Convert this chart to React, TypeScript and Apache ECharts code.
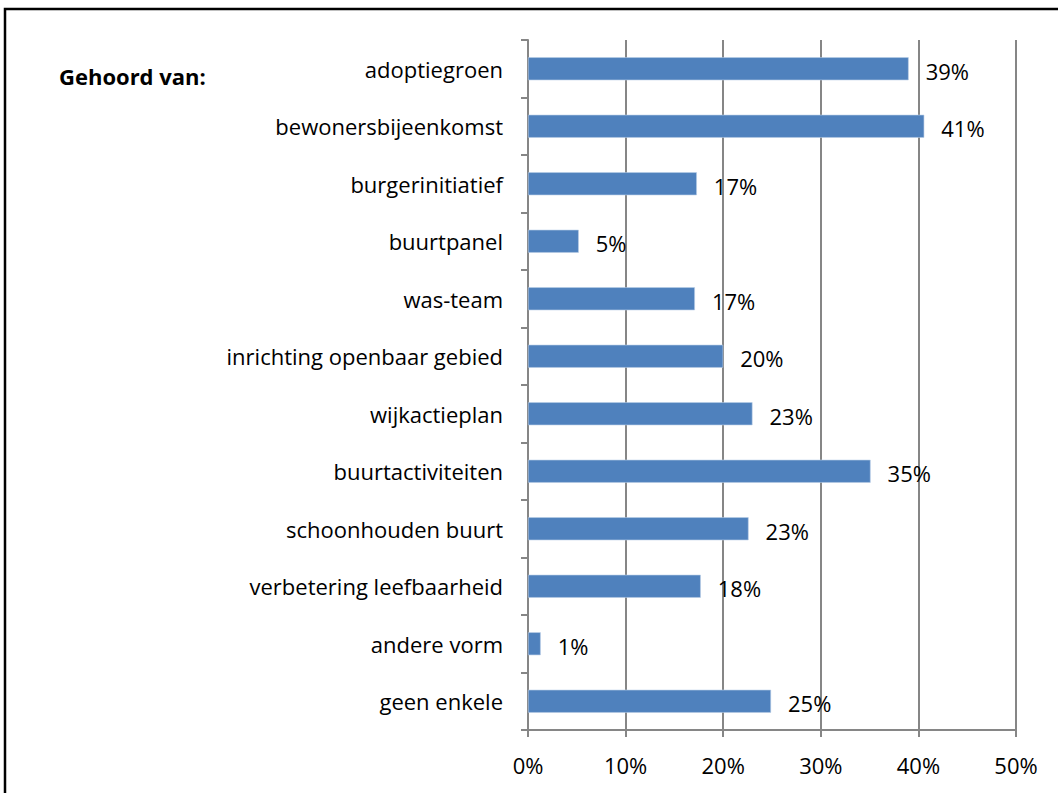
import React, { useEffect, useRef } from "react";
import * as echarts from "echarts";

const categories = [
  "adoptiegroen",
  "bewonersbijeenkomst",
  "burgerinitiatief",
  "buurtpanel",
  "was-team",
  "inrichting openbaar gebied",
  "wijkactieplan",
  "buurtactiviteiten",
  "schoonhouden buurt",
  "verbetering leefbaarheid",
  "andere vorm",
  "geen enkele",
];
const values = [39.0, 40.6, 17.3, 5.2, 17.1, 20.0, 23.0, 35.1, 22.6, 17.7, 1.3, 24.9];
const xTicks = [0, 10, 20, 30, 40, 50];
const sideLabel = "Gehoord van:";

const FONT = "'Open Sans', sans-serif";

export default function App() {
  const ref = useRef<HTMLDivElement>(null);
  useEffect(() => {
    if (!ref.current) return;
    const chart = echarts.init(ref.current, null, { renderer: "svg" });
    chart.setOption({
      animation: false,
      backgroundColor: "#ffffff",
      grid: { left: 528, right: 42, top: 40, bottom: 63, containLabel: false },
      xAxis: {
        type: "value",
        min: xTicks[0],
        max: xTicks[xTicks.length - 1],
        interval: 10,
        axisLine: { show: true, lineStyle: { color: "#868686", width: 2 } },
        axisTick: { show: true, length: 7, lineStyle: { color: "#868686", width: 2 } },
        splitLine: { show: true, lineStyle: { color: "#868686", width: 2 } },
        axisLabel: {
          formatter: "{value}%",
          color: "#000",
          fontSize: 22,
          fontFamily: FONT,
          margin: 24,
        },
      },
      yAxis: {
        type: "category",
        data: categories,
        inverse: true,
        axisLine: { show: true, lineStyle: { color: "#868686", width: 2 } },
        axisTick: { show: true, length: 7, lineStyle: { color: "#868686", width: 2 } },
        axisLabel: {
          color: "#000",
          fontSize: 22,
          fontFamily: FONT,
          margin: 25,
        },
      },
      series: [
        {
          type: "bar",
          data: values,
          barWidth: 23,
          itemStyle: { color: "#4F81BD", borderColor: "#b9cde5", borderWidth: 0.6 },
          label: {
            show: true,
            position: "right",
            distance: 17,
            offset: [0, 2],
            color: "#000",
            fontSize: 22,
            fontFamily: FONT,
            formatter: (p: any) => Math.round(p.value) + "%",
          },
        },
      ],
      graphic: [
        {
          type: "rect",
          shape: { x: 5, y: 9, width: 1100, height: 900 },
          style: { fill: "none", stroke: "#000", lineWidth: 2.5 },
          silent: true,
        },
        {
          type: "text",
          left: 59,
          top: 65,
          style: {
            text: sideLabel,
            fontSize: 22,
            fontWeight: "bold",
            fontFamily: FONT,
            fill: "#000",
          },
        },
      ],
    });
    return () => chart.dispose();
  }, []);
  return (
    <div
      ref={ref}
      style={{ position: "absolute", left: 0, top: 0, width: 1058, height: 793 }}
    />
  );
}
